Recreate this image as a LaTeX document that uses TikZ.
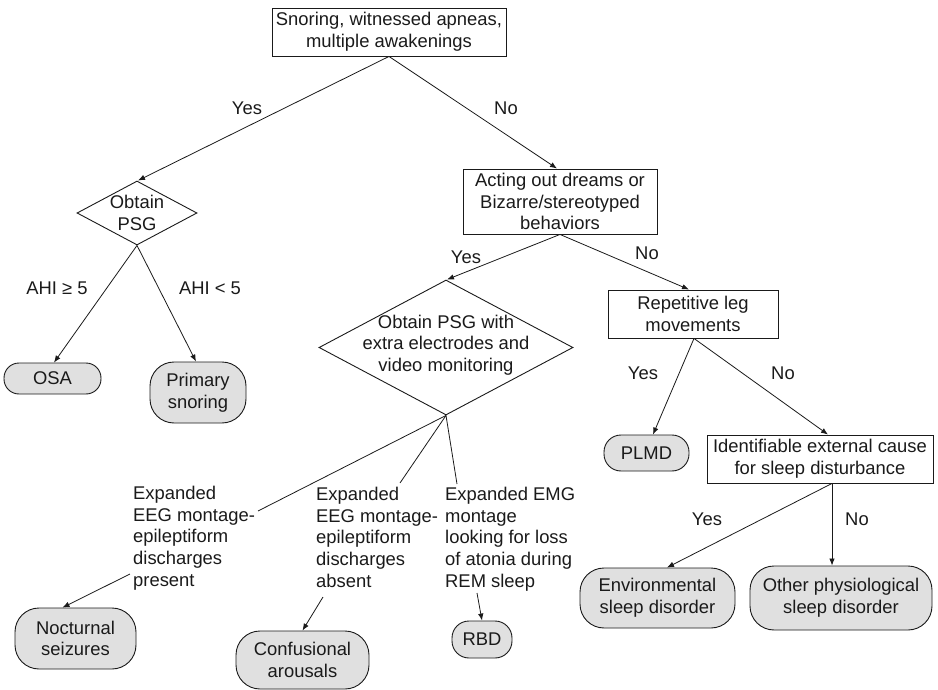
\documentclass[tikz,border=0pt]{standalone}
\usepackage{fontspec}
\setmainfont{Liberation Sans}
\usetikzlibrary{shapes.geometric,arrows.meta,calc}
\definecolor{nodefill}{HTML}{E0E0E0}
\definecolor{ink}{HTML}{1A1A1A}
\tikzset{
  base/.style={draw=ink, line width=0.9pt, inner sep=0pt, align=center, text=ink},
  sqbox/.style={base, rectangle},
  dbox/.style={base, diamond},
  endbox/.style={base, rectangle, fill=nodefill, rounded corners=24pt},
  smallend/.style={base, rectangle, fill=nodefill, rounded corners=15pt},
  lbl/.style={inner sep=0pt, text=ink},
  txt/.style={inner sep=0pt, align=left, anchor=north west, text=ink},
  arr/.style={draw=ink, line width=0.8pt, -{Latex[length=7pt,width=5.5pt]}},
  ln/.style={draw=ink, line width=0.8pt}
}
\begin{document}
\begin{tikzpicture}[x=1pt, y=-1pt, font=\fontsize{18.4pt}{21.7pt}\selectfont]
\useasboundingbox (0,0) rectangle (938,690);
% nodes
\node[sqbox, minimum width=234, minimum height=48] (top) at (389,32) {Snoring, witnessed apneas,\\multiple awakenings};
\node[dbox, minimum width=120, minimum height=64] (d1) at (137,213) {};
\node[lbl, align=center] (d1t) at (137,213) {Obtain\\PSG};
\node[sqbox, minimum width=194, minimum height=65] (act) at (560,201.5) {Acting out dreams or\\Bizarre/stereotyped\\behaviors};
\node[dbox, minimum width=254, minimum height=135] (d2) at (446,347.5) {};
\node[lbl, align=center] (d2t) at (446,345) {Obtain PSG with\\extra electrodes and\\video monitoring};
\node[sqbox, minimum width=170, minimum height=48] (rep) at (693,314) {Repetitive leg\\movements};
\node[smallend, minimum width=97, minimum height=31] (osa) at (52.5,378.5) {OSA};
\node[endbox, minimum width=96, minimum height=61] (prim) at (198,392.5) {Primary\\snoring};
\node[smallend, minimum width=85, minimum height=36, rounded corners=17pt] (plmd) at (646.5,453) {PLMD};
\node[sqbox, minimum width=226, minimum height=48] (ident) at (820,459) {Identifiable external cause\\for sleep disturbance};
\node[endbox, minimum width=155, minimum height=60] (env) at (657.5,598) {Environmental\\sleep disorder};
\node[endbox, minimum width=182, minimum height=64] (other) at (841,598) {Other physiological\\sleep disorder};
\node[endbox, minimum width=121, minimum height=61] (noct) at (75.5,638.5) {Nocturnal\\seizures};
\node[endbox, minimum width=133, minimum height=58] (conf) at (302.5,660) {Confusional\\arousals};
\node[smallend, minimum width=60, minimum height=37, rounded corners=17pt] (rbd) at (482,639.5) {RBD};
% free text labels
\node[txt] (lab1) at (133,486) {Expanded\\EEG montage-\\epileptiform\\discharges\\present};
\node[txt] (lab2) at (316,487) {Expanded\\EEG montage-\\epileptiform\\discharges\\absent};
\node[txt] (lab3) at (445,487) {Expanded EMG\\montage\\looking for loss\\of atonia during\\REM sleep};
% edge labels
\node[lbl] (y1) at (247,108) {Yes};
\node[lbl] (n1) at (506,108) {No};
\node[lbl] (a1) at (57,288) {AHI ≥ 5};
\node[lbl] (a2) at (210,288) {AHI < 5};
\node[lbl] (y2) at (466,257) {Yes};
\node[lbl] (n2) at (647,253) {No};
\node[lbl] (y3) at (643,373) {Yes};
\node[lbl] (n3) at (783,373) {No};
\node[lbl] (y4) at (707,519) {Yes};
\node[lbl] (n4) at (857,519) {No};
% coordinates
\coordinate (c1) at (258,511);
\coordinate (c2) at (400,483);
\coordinate (c3) at (457,484);
\coordinate (s1) at (130,574);
\coordinate (s2) at (323,597);
\coordinate (s3) at (477,593);
\coordinate (rb) at ([xshift=1]rep.south);
\coordinate (idb) at ([xshift=12]ident.south);
% connectors
\draw[arr] (top.south) -- ([xshift=1]d1.north);
\draw[arr] (top.south) -- ([xshift=-3]act.north);
\draw[arr] (act.south) -- ([xshift=1]d2.north);
\draw[arr] (act.south) -- ([xshift=-4]rep.north);
\draw[arr] (d1.south) -- ([xshift=1.5]osa.north);
\draw[arr] (d1.south) -- ([xshift=-2]prim.north);
\draw[arr] (rb) -- ([xshift=6.5]plmd.north);
\draw[arr] (rb) -- ([xshift=8]ident.north);
\draw[arr] (idb) -- ([xshift=9.5]env.north);
\draw[arr] (idb) -- (idb |- other.north);
\draw[ln] (d2.south) -- (c1);
\draw[ln] (d2.south) -- (c2);
\draw[ln] (d2.south) -- (c3);
\draw[arr] (s1) -- ([xshift=-13]noct.north);
\draw[arr] (s2) -- (conf.north);
\draw[arr] (s3) -- (rbd.north);
\end{tikzpicture}
\end{document}
